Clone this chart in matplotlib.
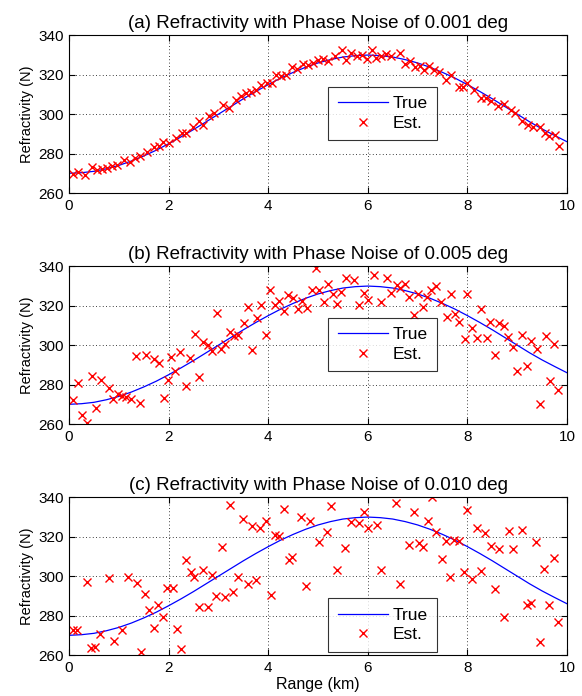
import matplotlib
matplotlib.use("Agg")
from matplotlib import pyplot as plt

plt.rcParams['font.family'] = ['Liberation Sans', 'DejaVu Sans']

# curva verdadera (cada 0.25 km)
rango_true = [i * 0.25 for i in range(41)]
n_true = [270.0, 270.3, 271.0, 272.3, 274.0, 276.2, 278.8, 281.7, 285.0, 288.5,
          292.2, 296.1, 300.0, 303.9, 307.8, 311.5, 315.0, 318.3, 321.2, 323.8,
          326.0, 327.7, 329.0, 329.7, 330.0, 329.7, 329.0, 327.7, 326.0, 323.8,
          321.2, 318.3, 315.0, 311.5, 307.8, 303.9, 300.0, 296.1, 292.5, 289.2, 286.0]

# (a) ruido 0.001 deg
rango_a = [0.08, 0.19, 0.32, 0.46, 0.57, 0.67, 0.77, 0.87, 0.97, 1.11, 1.22, 1.33,
           1.42, 1.56, 1.71, 1.81, 1.89, 2.01, 2.15, 2.26, 2.35, 2.48, 2.60, 2.70,
           2.82, 2.92, 3.10, 3.22, 3.36, 3.46, 3.56, 3.66, 3.76, 3.86, 3.97, 4.07,
           4.16, 4.26, 4.36, 4.48, 4.58, 4.70, 4.80, 4.90, 5.00, 5.10, 5.21, 5.34,
           5.48, 5.56, 5.66, 5.78, 5.88, 5.98, 6.09, 6.17, 6.27, 6.36, 6.47, 6.64,
           6.75, 6.85, 6.95, 7.05, 7.12, 7.22, 7.32, 7.42, 7.56, 7.66, 7.83, 7.92,
           8.00, 8.14, 8.27, 8.37, 8.47, 8.61, 8.73, 8.87, 8.95, 9.10, 9.21, 9.32,
           9.46, 9.55, 9.64, 9.75, 9.83]
est_a = [269.5, 270.8, 269.2, 273.1, 271.7, 272.2, 272.9, 273.7, 274.2, 276.8, 275.9,
         277.6, 278.8, 281.0, 283.2, 283.6, 286.1, 285.3, 287.8, 290.7, 290.7, 293.7,
         296.3, 294.6, 299.2, 300.5, 304.7, 303.1, 307.3, 309.0, 310.7, 311.5, 312.4,
         314.9, 315.8, 315.8, 320.0, 319.2, 320.0, 323.9, 322.9, 325.6, 325.1, 325.9,
         327.3, 328.0, 326.8, 329.7, 332.4, 327.6, 331.0, 329.7, 330.2, 328.0, 332.7,
         328.5, 329.7, 330.7, 329.7, 331.0, 325.6, 326.8, 323.9, 324.2, 322.2, 324.7,
         322.2, 321.2, 317.5, 320.0, 313.7, 313.7, 315.8, 312.4, 308.1, 308.1, 306.9,
         303.9, 305.3, 302.2, 300.5, 296.3, 294.6, 293.7, 293.7, 290.3, 289.0, 289.5,
         284.1]

# (b) ruido 0.005 deg
rango_b = [0.07, 0.18, 0.27, 0.36, 0.46, 0.55, 0.64, 0.81, 0.89, 0.99, 1.07, 1.15,
           1.24, 1.35, 1.42, 1.54, 1.71, 1.81, 1.90, 1.99, 2.05, 2.13, 2.23, 2.34,
           2.42, 2.52, 2.60, 2.70, 2.79, 2.87, 2.98, 3.05, 3.13, 3.23, 3.32, 3.40,
           3.51, 3.60, 3.68, 3.77, 3.85, 3.96, 4.04, 4.13, 4.21, 4.31, 4.40, 4.50,
           4.59, 4.68, 4.77, 4.87, 4.95, 5.01, 5.12, 5.20, 5.30, 5.39, 5.47, 5.57,
           5.73, 5.83, 5.93, 6.01, 6.12, 6.26, 6.39, 6.47, 6.58, 6.64, 6.74, 6.83,
           6.92, 7.00, 7.11, 7.19, 7.27, 7.37, 7.46, 7.58, 7.67, 7.75, 7.83, 7.95,
           8.00, 8.10, 8.20, 8.28, 8.39, 8.46, 8.56, 8.63, 8.73, 8.81, 8.92, 9.00,
           9.10, 9.19, 9.28, 9.39, 9.46, 9.57, 9.65, 9.73, 9.82]
est_b = [272.2, 281.0, 264.7, 260.3, 284.4, 268.0, 282.5, 278.3, 272.7, 275.4, 274.1,
         273.9, 272.5, 294.4, 270.5, 294.9, 293.2, 291.0, 273.2, 282.5, 293.9, 287.1,
         296.4, 279.3, 293.4, 305.6, 284.1, 301.4, 300.3, 297.3, 316.3, 298.3, 300.7,
         306.8, 304.7, 305.1, 311.2, 319.2, 297.5, 313.6, 320.5, 305.4, 328.1, 320.2,
         322.5, 317.1, 325.6, 323.9, 318.5, 322.4, 319.0, 328.1, 339.2, 328.1, 321.7,
         330.8, 326.1, 320.8, 327.0, 334.1, 333.2, 320.5, 326.4, 323.1, 335.4, 321.7,
         334.1, 326.4, 330.3, 329.2, 331.2, 324.2, 315.4, 325.9, 319.2, 324.7, 328.1,
         330.0, 321.9, 314.1, 325.9, 315.6, 312.0, 303.2, 325.8, 308.6, 303.6, 318.6,
         303.7, 312.0, 295.1, 311.2, 309.8, 304.1, 299.0, 286.8, 305.4, 289.2, 301.9,
         298.1, 270.2, 304.7, 282.0, 300.5, 277.1]

# (c) ruido 0.010 deg
rango_c = [0.08, 0.17, 0.37, 0.45, 0.52, 0.62, 0.81, 0.91, 1.07, 1.18, 1.36, 1.44,
           1.52, 1.61, 1.71, 1.78, 1.89, 1.97, 2.08, 2.16, 2.25, 2.34, 2.44, 2.51,
           2.60, 2.70, 2.79, 2.87, 2.95, 3.07, 3.13, 3.23, 3.30, 3.40, 3.50, 3.60,
           3.67, 3.76, 3.84, 3.96, 4.05, 4.13, 4.21, 4.32, 4.41, 4.48, 4.66, 4.75,
           4.84, 5.02, 5.19, 5.27, 5.38, 5.55, 5.66, 5.83, 5.93, 6.00, 6.19, 6.27,
           6.56, 6.64, 6.83, 6.92, 7.02, 7.11, 7.20, 7.29, 7.36, 7.49, 7.56, 7.65,
           7.73, 7.83, 7.93, 8.00, 8.10, 8.20, 8.28, 8.36, 8.47, 8.56, 8.64, 8.73,
           8.83, 8.92, 9.10, 9.19, 9.27, 9.37, 9.46, 9.54, 9.63, 9.73, 9.82]
est_c = [272.5, 272.5, 297.3, 263.4, 264.1, 270.5, 299.2, 267.3, 272.9, 299.8, 296.4,
         261.7, 291.2, 282.7, 273.6, 285.6, 279.5, 294.1, 294.2, 273.2, 263.1, 308.0,
         301.9, 299.8, 284.4, 303.1, 284.6, 300.7, 289.8, 314.7, 289.2, 335.9, 292.2,
         299.8, 329.2, 295.9, 325.3, 298.3, 324.4, 328.0, 290.7, 321.0, 320.2, 334.1,
         308.3, 309.8, 330.0, 295.1, 328.1, 317.3, 322.2, 335.4, 303.2, 314.1, 327.6,
         326.9, 332.5, 324.6, 326.1, 303.2, 336.9, 295.9, 315.8, 332.7, 317.0, 314.7,
         327.8, 340.0, 322.5, 308.8, 318.1, 299.5, 318.5, 318.0, 301.9, 333.4, 298.8,
         324.6, 302.7, 321.9, 315.4, 293.6, 313.7, 279.5, 322.9, 313.6, 323.6, 285.6,
         286.4, 317.1, 266.8, 303.4, 285.4, 309.3, 276.6]

paneles = [
    ("(a) Refractivity with Phase Noise of 0.001 deg", rango_a, est_a, 0.7227),
    ("(b) Refractivity with Phase Noise of 0.005 deg", rango_b, est_b, 0.3908),
    ("(c) Refractivity with Phase Noise of 0.010 deg", rango_c, est_c, 0.0589),
]

fig = plt.figure(figsize=(5.82, 6.96), dpi=100)

for k, (titulo, rx, ry, abajo) in enumerate(paneles):
    ax = fig.add_axes([0.1186, abajo, 0.8557, 0.2265])
    ax.plot(rango_true, n_true, color="blue", linewidth=0.9, label="True")
    ax.plot(rx, ry, linestyle="none", marker="x", color="red",
            markersize=5.5, markeredgewidth=1.0, label="Est.")
    ax.set_xlim(0, 10)
    ax.set_ylim(260, 340)
    ax.set_xticks([0, 2, 4, 6, 8, 10])
    ax.set_yticks([260, 280, 300, 320, 340])
    ax.grid(True, color="black", linestyle=(0, (1, 3)), linewidth=0.6)
    ax.tick_params(direction="in", top=True, right=True, labelsize=11,
                   length=4, pad=4)
    ax.set_title(titulo, fontsize=13.5, pad=5)
    ax.set_ylabel("Refractivity (N)", fontsize=10.5, labelpad=3)
    for s in ax.spines.values():
        s.set_linewidth(0.8)
    if k < 2:
        leg = ax.legend(loc="upper left", bbox_to_anchor=(0.52, 0.675),
                        fontsize=12.5, handlelength=2.9, handletextpad=0.25,
                        borderpad=0.55, labelspacing=0.25, borderaxespad=0)
    else:
        leg = ax.legend(loc="lower left", bbox_to_anchor=(0.52, 0.02),
                        fontsize=12.5, handlelength=2.9, handletextpad=0.25,
                        borderpad=0.55, labelspacing=0.25, borderaxespad=0)
    leg.get_frame().set_edgecolor("black")
    leg.get_frame().set_linewidth(0.8)
    leg.get_frame().set_boxstyle("square", pad=0)
    if k == 2:
        ax.set_xlabel("Range (km)", fontsize=11.5, labelpad=2)

fig.savefig("out.png", dpi=100)
